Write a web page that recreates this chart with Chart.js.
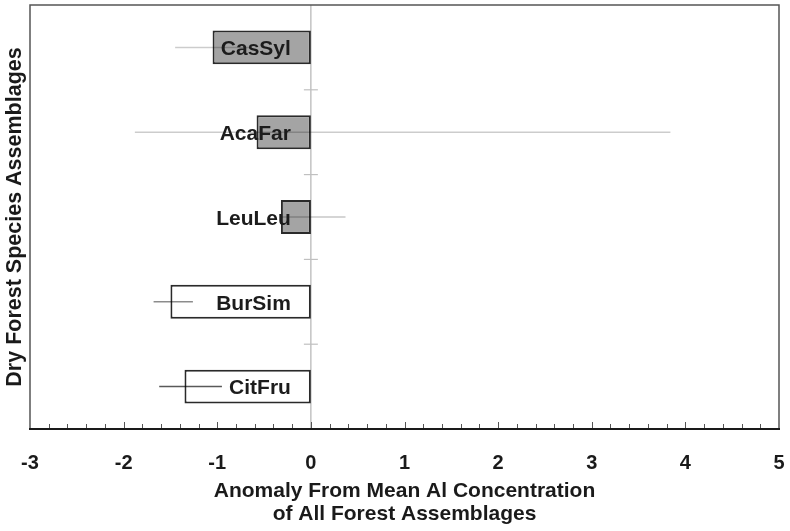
<!DOCTYPE html>
<html>
<head>
<meta charset="utf-8">
<script src="https://cdn.jsdelivr.net/npm/chart.js@4"></script>
<style>
  html, body { margin: 0; padding: 0; background: #fff; }
  #wrap { width: 790px; height: 531px; }
</style>
</head>
<body>
<div id="wrap"><canvas id="myChart" width="790" height="531"></canvas></div>
<script>
// assemblages and their Al anomaly (bar) with low/high range (whisker)
const assemblages = ["CasSyl", "AcaFar", "LeuLeu", "BurSim", "CitFru"];
const anomaly = [-1.05, -0.58, -0.32, -1.50, -1.35];
const rangeLow = [-1.45, -1.88, -0.33, -1.68, -1.62];
const rangeHigh = [-0.65, 3.84, 0.37, -1.26, -0.95];
const xTickValues = [-3, -2, -1, 0, 1, 2, 3, 4, 5];

const FONT = "'Liberation Sans', Arial, Helvetica, sans-serif";

// bar fill: shaded for the first three, open for the rest
const barFill = ["#a4a4a4", "#a4a4a4", "#a4a4a4", "#ffffff", "#ffffff"];
const whiskerColor = ["rgba(0,0,0,0.2)", "rgba(0,0,0,0.2)", "rgba(0,0,0,0.22)", "rgba(0,0,0,0.45)", "rgba(0,0,0,0.65)"];

// frame, inside tick marks, zero-axis ticks
const framePlugin = {
    id: "frame",
    beforeDatasetsDraw(chart) {
        const {ctx, chartArea: a, scales: {x, y}} = chart;
        ctx.save();
        // zero line
        const x0 = x.getPixelForValue(0);
        ctx.strokeStyle = "#b4b4b4";
        ctx.lineWidth = 1.2;
        ctx.beginPath();
        ctx.moveTo(x0, a.top);
        ctx.lineTo(x0, a.bottom);
        ctx.stroke();
        // short ticks on the zero line between categories
        ctx.strokeStyle = "#c0c0c0";
        for (let i = 1; i < assemblages.length; i++) {
            const yy = (y.getPixelForValue(i - 1) + y.getPixelForValue(i)) / 2;
            ctx.beginPath();
            ctx.moveTo(x0 - 7, yy);
            ctx.lineTo(x0 + 7, yy);
            ctx.stroke();
        }
        ctx.restore();
    },
    afterDraw(chart) {
        const {ctx, chartArea: a, scales: {x}} = chart;
        ctx.save();
        // minor ticks every 0.2, slightly longer at whole numbers
        ctx.strokeStyle = "#555";
        ctx.lineWidth = 1;
        for (let k = 1; k < 40; k++) {
            const v = -3 + k * 0.2;
            const px = Math.round(x.getPixelForValue(v)) + 0.5;
            const len = k % 5 === 0 ? 7 : 5;
            ctx.beginPath();
            ctx.moveTo(px, a.bottom);
            ctx.lineTo(px, a.bottom - len);
            ctx.stroke();
        }
        // box
        ctx.strokeStyle = "#555";
        ctx.lineWidth = 1.5;
        ctx.beginPath();
        ctx.moveTo(a.left, a.bottom);
        ctx.lineTo(a.left, a.top);
        ctx.lineTo(a.right, a.top);
        ctx.lineTo(a.right, a.bottom);
        ctx.stroke();
        ctx.strokeStyle = "#1a1a1a";
        ctx.lineWidth = 2;
        ctx.beginPath();
        ctx.moveTo(a.left - 1, a.bottom);
        ctx.lineTo(a.right + 1, a.bottom);
        ctx.stroke();
        ctx.restore();
    }
};

// range whiskers plus the name written left of zero
const whiskerPlugin = {
    id: "whiskers",
    afterDatasetsDraw(chart) {
        const {ctx, scales: {x, y}} = chart;
        ctx.save();
        assemblages.forEach((name, i) => {
            const yy = y.getPixelForValue(i);
            ctx.strokeStyle = whiskerColor[i];
            ctx.lineWidth = 1.5;
            ctx.beginPath();
            ctx.moveTo(x.getPixelForValue(rangeLow[i]), yy);
            ctx.lineTo(x.getPixelForValue(rangeHigh[i]), yy);
            ctx.stroke();
        });
        ctx.fillStyle = "#1c1c1c";
        ctx.font = "bold 21px " + FONT;
        ctx.textAlign = "right";
        ctx.textBaseline = "middle";
        const x0 = x.getPixelForValue(0);
        assemblages.forEach((name, i) => {
            ctx.fillText(name, x0 - 20, y.getPixelForValue(i) + 2);
        });
        ctx.restore();
    }
};

new Chart(document.getElementById("myChart"), {
    type: "bar",
    data: {
        labels: assemblages,
        datasets: [{
            data: anomaly,
            backgroundColor: barFill,
            borderColor: "#2a2a2a",
            borderWidth: 2,
            borderSkipped: false,
            barPercentage: 0.4,
            categoryPercentage: 1.0
        }]
    },
    options: {
        indexAxis: "y",
        responsive: false,
        animation: false,
        layout: {padding: {top: 5, right: 11, left: 0, bottom: 0}},
        plugins: {legend: {display: false}, tooltip: {enabled: false}},
        scales: {
            x: {
                type: "linear",
                min: -3,
                max: 5,
                afterFit(scale) {
                    scale.height = 102;
                    scale.paddingLeft = 0;
                    scale.paddingRight = 0;
                },
                afterBuildTicks(scale) {
                    scale.ticks = xTickValues.map(v => ({value: v}));
                },
                grid: {display: false, drawTicks: false},
                border: {display: false},
                ticks: {
                    autoSkip: false,
                    maxRotation: 0,
                    padding: 22,
                    color: "#1a1a1a",
                    font: {family: FONT, size: 20, weight: "bold"}
                },
                title: {
                    display: true,
                    text: ["Anomaly From Mean Al Concentration", "of All Forest Assemblages"],
                    color: "#1a1a1a",
                    font: {family: FONT, size: 21, weight: "bold", lineHeight: 1.1},
                    padding: {top: 0, bottom: 5}
                }
            },
            y: {
                type: "category",
                offset: true,
                afterFit(scale) { scale.width = 30; },
                grid: {display: false, drawTicks: false},
                border: {display: false},
                ticks: {display: false},
                title: {
                    display: true,
                    text: "Dry Forest Species Assemblages",
                    color: "#1a1a1a",
                    font: {family: FONT, size: 21.5, weight: "bold", lineHeight: 1.1},
                    padding: {top: 3, bottom: 0}
                }
            }
        }
    },
    plugins: [framePlugin, whiskerPlugin]
});
</script>
</body>
</html>
